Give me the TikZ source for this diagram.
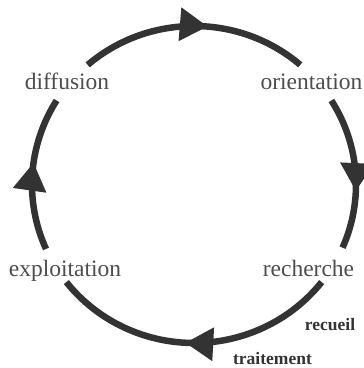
\documentclass[tikz,border=0pt]{standalone}
\usepackage{fontspec}
\setmainfont{Liberation Serif}
\usetikzlibrary{arrows.meta,decorations.markings}
\definecolor{ringgray}{HTML}{333333}
\definecolor{labelgray}{HTML}{4D4D4D}
\begin{document}
\begin{tikzpicture}[x=1pt,y=1pt,
        ring/.style={draw=ringgray,line width=6.5pt},
        tipat/.style={postaction={decorate},decoration={markings,mark=at position #1 with {\arrow{Triangle[length=28pt,width=32pt]}}}},
        phase/.style={text=labelgray,font=\fontsize{23.5}{28}\selectfont,inner sep=0pt,anchor=base},
        step name/.style={text=ringgray,font=\fontsize{17.5}{21}\selectfont\bfseries,inner sep=0pt,anchor=base}
      ]
      \useasboundingbox (0,0) rectangle (364,368);
      \coordinate (c) at (194,183.5);
      \node[phase] (diffusion) at (67,278.7) {diffusion};
      \node[phase] (orientation) at (311.5,278.7) {orientation};
      \node[phase] (exploitation) at (65,91.3) {exploitation};
      \node[phase] (recherche) at (308.5,91.3) {recherche};
      \node[step name] (recueil) at (330,37.3) {recueil};
      \node[step name] (traitement) at (272.5,4) {traitement};
      \draw[ring,tipat=0.56] ([shift={(131:162pt and 158.5pt)}]c) arc[start angle=131,end angle=49,x radius=162pt,y radius=158.5pt];
      \draw[ring,tipat=0.62] ([shift={(32:162pt and 158.5pt)}]c) arc[start angle=32,end angle=-23.5,x radius=162pt,y radius=158.5pt];
      \draw[ring,tipat=0.53] ([shift={(-38:162pt and 158.5pt)}]c) arc[start angle=-38,end angle=-142,x radius=162pt,y radius=158.5pt];
      \draw[ring,tipat=0.57] ([shift={(204:162pt and 158.5pt)}]c) arc[start angle=204,end angle=148,x radius=162pt,y radius=158.5pt];
    \end{tikzpicture}
\end{document}
